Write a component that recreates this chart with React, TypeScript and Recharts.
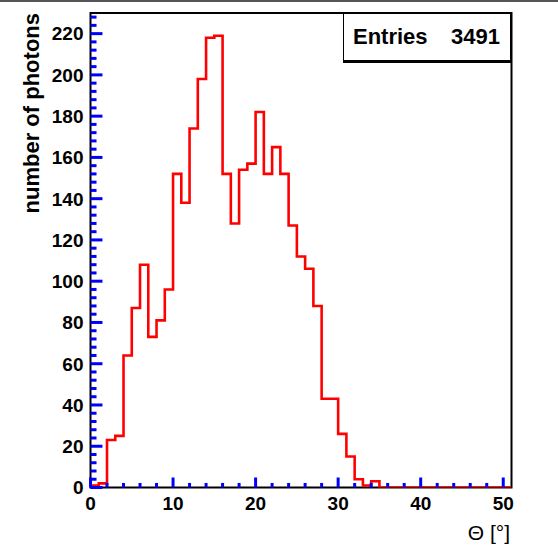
import React from "react";
import { LineChart, Line, XAxis, YAxis, ReferenceArea, ReferenceLine } from "recharts";

// photon counts per 1° bin, bins 0-1 ... 50-51
const binCounts = [
  1, 2, 23, 25, 64, 87, 108, 73, 81, 96,
  152, 138, 174, 198, 218, 219, 152, 128, 154, 157,
  182, 152, 165, 152, 127, 112, 106, 88, 43, 43,
  26, 15, 4, 1, 3, 0, 0, 0, 0, 0,
  0, 0, 0, 0, 0, 0, 0, 0, 0, 0, 0,
];
const yMajorTicks = [0, 20, 40, 60, 80, 100, 120, 140, 160, 180, 200, 220];
const yAllTicks = Array.from({ length: 58 }, (_, i) => i * 4);
const xMajorTicks = [0, 10, 20, 30, 40, 50];
const xAllTicks = Array.from({ length: 26 }, (_, i) => i * 2);
const entries = 3491;
const xTitle = "Θ [°]";
const yTitle = "number of photons";

const xMax = 51;
const yMax = 230;

// stepAfter needs a closing point at the upper edge of the last bin
const data = binCounts
  .map((n, i) => ({ theta: i, n }))
  .concat([{ theta: binCounts.length, n: binCounts[binCounts.length - 1] }]);

const font = '"Liberation Sans", Arial, Helvetica, sans-serif';
const Y_GAP = 7;
const X_GAP = 9;
// tick mark lengths, in data units of the other axis (~12/6 px and ~10/4.5 px)
const yTickLen = { major: 1.45, minor: 0.73 };
const xTickLen = { major: 4.85, minor: 2.2 };

function YTick(props: any) {
  const x = Number(props.x);
  const y = Number(props.y);
  const v = props.payload.value;
  if (!yMajorTicks.includes(v)) return <g />;
  return (
    <text x={x} y={y} dy="0.36em" textAnchor="end" fontFamily={font} fontWeight="bold" fontSize={19} fill="#000">
      {v}
    </text>
  );
}

function XTick(props: any) {
  const x = Number(props.x);
  const y = Number(props.y);
  const v = props.payload.value;
  if (!xMajorTicks.includes(v)) return <g />;
  return (
    <text x={x} y={y} dy="0.72em" textAnchor="middle" fontFamily={font} fontWeight="bold" fontSize={19} fill="#000">
      {v}
    </text>
  );
}

export default function App() {
  return (
    <div style={{ position: "absolute", left: 0, top: 0, width: 558, height: 548, background: "#fff", fontFamily: font }}>
      <div style={{ position: "absolute", left: 0, top: 0, width: 558, height: 2, background: "#555" }} />
      <LineChart
        width={558}
        height={548}
        data={data}
        margin={{ top: 13, right: 46.5, bottom: 20.5, left: 30.5 }}
      >
        <XAxis
          dataKey="theta"
          type="number"
          domain={[0, xMax]}
          ticks={xAllTicks}
          interval={0}
          height={40}
          axisLine={false}
          tickLine={false}
          tickSize={0}
          tickMargin={X_GAP}
          tick={XTick}
          allowDataOverflow
        />
        <YAxis
          type="number"
          domain={[0, yMax]}
          ticks={yAllTicks}
          interval={0}
          width={60}
          axisLine={false}
          tickLine={false}
          tickSize={0}
          tickMargin={Y_GAP}
          tick={YTick}
          allowDataOverflow
        />
        <Line
          type="stepAfter"
          dataKey="n"
          stroke="#ff0000"
          strokeWidth={2.6}
          dot={false}
          isAnimationActive={false}
        />
        {yAllTicks.map((v) => (
          <ReferenceLine
            key={`yt${v}`}
            segment={[
              { x: 0, y: v },
              { x: yMajorTicks.includes(v) ? yTickLen.major : yTickLen.minor, y: v },
            ]}
            stroke="#0000ff"
            strokeWidth={3}
            ifOverflow="visible"
          />
        ))}
        {xAllTicks.map((v) => (
          <ReferenceLine
            key={`xt${v}`}
            segment={[
              { x: v, y: 0 },
              { x: v, y: xMajorTicks.includes(v) ? xTickLen.major : xTickLen.minor },
            ]}
            stroke="#0000ff"
            strokeWidth={3}
            ifOverflow="visible"
          />
        ))}
        <ReferenceArea x1={0} x2={xMax} y1={0} y2={yMax} fill="none" stroke="#000" strokeWidth={2} ifOverflow="visible" />
      </LineChart>
      <div
        style={{
          position: "absolute",
          left: 20,
          top: 223,
          width: 210,
          height: 24,
          lineHeight: "24px",
          transform: "rotate(-90deg)",
          transformOrigin: "top left",
          textAlign: "right",
          fontWeight: "bold",
          fontSize: 22,
          whiteSpace: "nowrap",
        }}
      >
        {yTitle}
      </div>
      <div style={{ position: "absolute", right: 48, top: 520, fontSize: 21, lineHeight: "26px", whiteSpace: "nowrap" }}>
        {xTitle}
      </div>
      <div
        style={{
          position: "absolute",
          left: 343,
          top: 13,
          width: 168,
          height: 50,
          boxSizing: "border-box",
          border: "1px solid #000",
          borderBottom: "3px solid #000",
          background: "#fff",
          display: "flex",
          alignItems: "center",
          justifyContent: "space-between",
          padding: "0 10px 0 9px",
          fontWeight: "bold",
          fontSize: 22,
        }}
      >
        <span>Entries</span>
        <span>{entries}</span>
      </div>
    </div>
  );
}
